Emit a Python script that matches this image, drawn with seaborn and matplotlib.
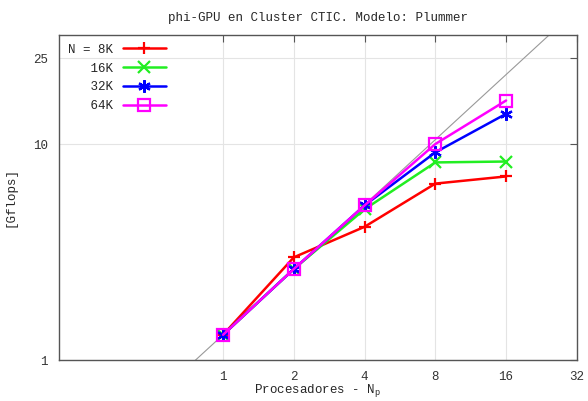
import numpy as np
import pandas as pd
import matplotlib
matplotlib.use("Agg")
import matplotlib.pyplot as plt
import seaborn as sns

# datos
procesadores = [1, 2, 4, 8, 16]
gflops_8k = [1.31, 2.99, 4.14, 6.56, 7.08]
gflops_16k = [1.31, 2.64, 4.99, 8.22, 8.30]
gflops_32k = [1.31, 2.64, 5.20, 9.15, 13.8]
gflops_64k = [1.31, 2.64, 5.20, 10.0, 15.9]
etiquetas = ["N = 8K", "   16K", "   32K", "   64K"]
colores = ["#ff0000", "#22ee22", "#0000ff", "#ff00ff"]
marcadores = ["+", "x", (6, 2, 0), "s"]

x_ticks = [1, 2, 4, 8, 16, 32]
y_ticks = [1, 10, 25]

series = [gflops_8k, gflops_16k, gflops_32k, gflops_64k]

sns.set_style("white")
plt.rcParams["font.family"] = ["Liberation Mono", "DejaVu Sans Mono"]
plt.rcParams["font.size"] = 9

fig = plt.figure(figsize=(5.88, 4.01), dpi=100)
ax = fig.add_axes([0.1, 0.102, 0.881, 0.811])

# escalado ideal
xi = np.array([0.2, 32])
ax.plot(xi, gflops_8k[0] * xi, color="#999999", lw=0.8, zorder=1)

for valores, etiq, col, mk in zip(series, etiquetas, colores, marcadores):
    df = pd.DataFrame({"p": procesadores, "gflops": valores})
    sns.lineplot(data=df, x="p", y="gflops", color=col, marker=mk,
                 lw=1.8, markersize=9, mew=1.6, markerfacecolor="none",
                 markeredgecolor=col, label=etiq, ax=ax, zorder=3)

ax.set_xscale("log")
ax.set_yscale("log")
ax.set_xlim(0.2, 32)
ax.set_ylim(1, 32)
ax.set_xticks(x_ticks)
ax.set_xticklabels([str(t) for t in x_ticks])
ax.set_yticks(y_ticks)
ax.set_yticklabels([str(t) for t in y_ticks])
ax.minorticks_off()
ax.tick_params(direction="in", top=True, right=True, length=5, width=0.8,
               colors="#555555", labelcolor="#333333", pad=8)
ax.grid(True, color="#e4e4e4", lw=0.8)
for s in ax.spines.values():
    s.set_color("#555555")
    s.set_linewidth(1)

ax.set_title("phi-GPU en Cluster CTIC. Modelo: Plummer", fontsize=9, pad=10)
ax.set_xlabel("Procesadores - N$_\\mathregular{p}$", fontsize=9)
ax.xaxis.set_label_coords(0.5, -0.068)
ax.set_ylabel("[Gflops]", fontsize=9)
ax.yaxis.set_label_coords(-0.082, 0.5)

h, l = ax.get_legend_handles_labels()
ax.legend(h, l, loc="upper left", frameon=False, markerfirst=False,
          handlelength=3.5, labelspacing=0.55, borderaxespad=0.3,
          prop={"family": "Liberation Mono", "size": 9})

fig.savefig("out.png", dpi=100)
